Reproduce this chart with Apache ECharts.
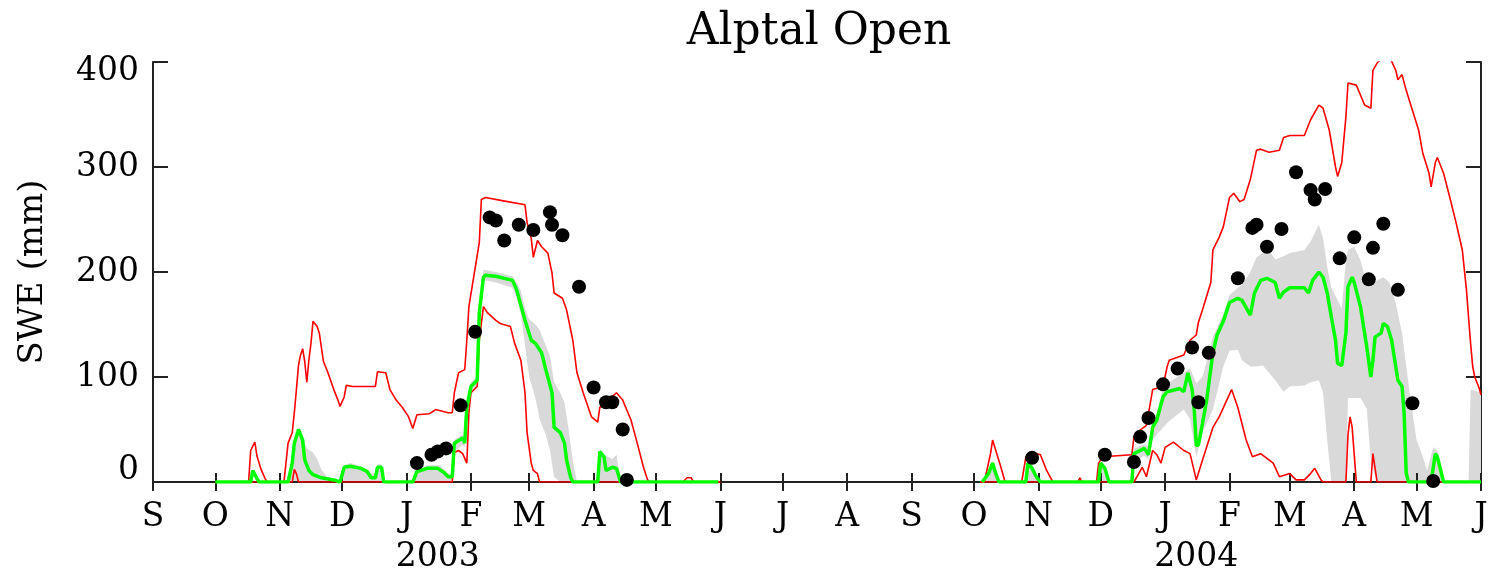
<!DOCTYPE html>
<html>
<head>
<meta charset="utf-8">
<script src="https://cdn.jsdelivr.net/npm/echarts@6/dist/echarts.min.js"></script>
<style>
html,body{margin:0;padding:0;background:#fff;}
#chart{width:1495px;height:572px;}
</style>
</head>
<body>
<div id="chart"></div>
<script>
// ---- DATA (x = days since 2002-09-01, y = SWE in mm) ----
const startYear = 2002, startMonth = 8, startDay = 1;
const endDay = 639; // 2004-06-01
const monthLetters = ['J','F','M','A','M','J','J','A','S','O','N','D'];
const yearLabels = ['2003', '2004'];
const yearLabelDays = [137, 502];

const redUpper2003 = [[30,0],[46,0],[47,30],[49,38],[50,25],[52,12],[54,3],[55,0],[63,0],[65,37],[67,47],[68,66],[69,88],[70,111],[71,121],[72,127],[73,115],[74,95],[75,116],[76,132],[77,153],[79,148],[80,142],[82,115],[84,105],[87,88],[89,78],[90,72],[92,81],[93,92],[96,91],[107,91],[108,105],[112,104],[114,88],[117,78],[120,71],[123,62],[125,51],[127,64],[133,65],[136,69],[142,66],[144,66],[145,85],[147,104],[150,107],[151,135],[152,167],[157,228],[158,269],[160,271],[168,268],[179,264],[180,247],[182,232],[183,214],[185,230],[187,224],[190,218],[192,199],[193,180],[197,175],[199,164],[202,135],[204,104],[207,85],[211,62],[214,57],[215,71],[219,78],[223,85],[226,78],[230,59],[233,37],[236,14],[238,2],[239,0],[255,0],[257,4],[259,4],[260,0],[273,0]];
const redUpper2004 = [[398,0],[400,0],[403,27],[404,40],[406,27],[408,14],[410,0],[418,0],[420,24],[425,27],[427,26],[430,11],[433,0],[445,0],[446,4],[447,0],[454,0],[455,18],[457,24],[471,26],[472,43],[474,48],[478,54],[481,88],[486,91],[488,110],[489,116],[496,121],[499,135],[502,140],[503,152],[505,164],[509,190],[510,221],[513,233],[515,243],[518,271],[520,275],[523,267],[525,269],[528,288],[531,316],[533,317],[537,314],[542,316],[544,328],[547,330],[554,330],[557,345],[561,359],[563,356],[566,335],[569,300],[570,291],[572,304],[574,348],[575,380],[579,378],[583,359],[586,356],[587,392],[589,399],[592,405],[595,405],[598,392],[599,383],[601,388],[603,373],[606,354],[609,335],[611,313],[614,294],[615,281],[617,304],[618,309],[621,294],[624,271],[627,247],[630,221],[632,183],[633,157],[634,132],[635,110],[636,100],[638,90],[639,83]];
const redLower2003 = [[30,0],[67,0],[68,12],[69,8],[70,0],[144,0],[145,28],[147,30],[149,27],[151,18],[152,66],[153,85],[156,91],[157,135],[159,167],[161,161],[165,154],[167,151],[172,148],[174,132],[177,116],[179,85],[180,47],[182,18],[183,11],[185,8],[186,0],[273,0]];
const redLower2004 = [[398,0],[472,0],[476,14],[478,5],[481,30],[483,26],[485,18],[487,33],[491,38],[496,30],[499,27],[502,2],[505,21],[510,52],[513,62],[519,88],[522,71],[526,40],[529,24],[533,27],[539,18],[542,5],[547,8],[550,2],[554,2],[557,8],[559,13],[562,2],[563,0],[574,0],[575,45],[576,62],[577,52],[579,0],[586,0],[587,27],[589,0],[639,0]];
const green2003 = [[30,0],[47,0],[48,11],[49,7],[51,0],[65,0],[67,18],[68,37],[70,50],[72,40],[73,21],[75,11],[77,7],[81,4],[87,2],[90,0],[92,14],[95,15],[100,13],[103,10],[105,4],[107,4],[108,14],[110,14],[111,0],[125,0],[127,10],[132,13],[137,13],[140,9],[142,5],[144,5],[145,37],[149,42],[150,37],[151,71],[153,91],[156,97],[157,161],[159,195],[160,197],[165,196],[173,192],[175,183],[179,154],[182,135],[184,132],[185,129],[187,123],[189,107],[192,85],[193,52],[196,47],[198,37],[199,21],[201,4],[202,0],[214,0],[215,29],[217,24],[218,11],[221,14],[223,13],[225,0],[272,0]];
const green2004 = [[399,0],[402,8],[404,18],[405,11],[407,0],[420,0],[421,18],[423,13],[425,5],[427,0],[455,0],[456,18],[458,13],[460,0],[471,0],[472,27],[477,32],[479,26],[481,52],[483,59],[486,81],[488,86],[494,89],[496,86],[498,104],[500,88],[501,69],[502,35],[503,35],[505,56],[507,78],[510,123],[512,140],[515,153],[518,171],[522,175],[524,173],[528,159],[530,180],[533,192],[536,194],[540,190],[542,175],[544,181],[547,185],[554,185],[556,180],[558,192],[561,200],[563,195],[565,180],[567,157],[569,135],[570,113],[572,111],[574,142],[575,186],[577,195],[578,190],[581,167],[584,129],[586,100],[587,116],[588,138],[591,142],[592,151],[594,148],[596,135],[599,97],[601,91],[602,66],[603,9],[604,0],[615,0],[617,27],[618,24],[621,0],[639,0]];
// ensemble band: [day, low, high]
const band2003 = [[30,0,0],[65,0,0],[67,0,20],[68,0,40],[70,0,50],[72,0,42],[74,0,32],[77,0,28],[79,0,22],[81,0,12],[84,0,4],[86,0,0],[91,0,0],[92,0,16],[95,0,18],[100,0,15],[103,0,12],[105,0,8],[107,0,8],[108,0,17],[110,0,17],[111,0,0],[125,0,0],[127,0,12],[132,0,16],[138,0,16],[142,0,8],[144,0,8],[145,30,40],[149,35,45],[150,33,42],[151,60,75],[153,85,95],[156,90,100],[157,150,170],[159,190,202],[160,192,202],[165,190,200],[173,185,196],[175,175,190],[177,160,182],[179,130,165],[181,100,155],[184,80,150],[186,60,145],[189,45,130],[191,30,120],[193,5,95],[196,0,85],[198,0,75],[200,0,50],[202,0,20],[204,0,0],[214,0,0],[215,0,32],[217,0,26],[221,0,22],[223,0,26],[225,0,0]];
const band2004 = [[400,0,0],[403,0,15],[404,0,20],[406,0,10],[408,0,0],[420,0,0],[421,0,20],[424,0,12],[427,0,0],[455,0,0],[456,0,20],[458,0,14],[460,0,0],[471,0,0],[472,20,32],[477,25,36],[479,22,34],[481,40,60],[483,45,65],[486,52,90],[489,58,95],[496,69,104],[499,60,108],[502,24,94],[505,47,100],[510,69,138],[515,110,160],[518,125,178],[522,126,185],[524,116,188],[528,110,200],[531,110,214],[534,111,218],[537,104,221],[540,97,212],[544,86,215],[547,91,218],[554,92,221],[557,95,229],[561,97,245],[563,85,232],[565,40,205],[567,0,185],[570,0,173],[572,0,165],[574,0,211],[575,80,221],[578,80,224],[581,80,211],[584,70,190],[586,20,190],[589,0,192],[592,0,195],[595,0,190],[598,0,170],[601,0,142],[602,0,126],[605,0,80],[608,0,40],[611,0,24],[613,0,11],[616,0,33],[618,0,30],[620,0,8],[622,0,0],[633,0,0],[634,0,88],[639,0,85]];
const obsDays = [127,134,137,141,148,155,162,165,169,176,183,191,192,197,205,212,218,221,226,228,423,458,472,475,479,486,493,500,503,508,522,529,531,536,543,550,557,559,564,571,578,585,587,592,599,606,616];
const obsSWE  = [18,26,29,32,73,143,252,249,230,245,240,257,245,235,186,90,76,76,50,2,23,26,19,43,61,93,108,128,76,123,194,242,245,224,241,295,278,269,279,213,233,193,223,246,183,75,1];

// ---- helpers ----
const T = d => new Date(startYear, startMonth, startDay + d).getTime();
const FONT = 'DejaVu Serif';
const AX = '#222';
const xMin = T(0), xMax = T(endDay);
const monthTicks = [];
for (let i = 0; i <= 21; i++) monthTicks.push(new Date(startYear, startMonth + i, 1).getTime());
const yearTicks = yearLabelDays.map(T);

const pts = arr => arr.map(p => [T(p[0]), p[1]]);
// band drawn as a gray area up to "high", then a white area up to "low" on top of it
const bandSeries = (band) => [
  { type: 'line', data: band.map(p => [T(p[0]), p[2]]), symbol: 'none', clip: true,
    lineStyle: { width: 0, color: '#d9d9d9' }, areaStyle: { color: '#d9d9d9', opacity: 1, origin: 'start' }, silent: true, z: 1 },
  { type: 'line', data: band.map(p => [T(p[0]), p[1]]), symbol: 'none', clip: true,
    lineStyle: { width: 0, color: '#ffffff' }, areaStyle: { color: '#ffffff', opacity: 1, origin: 'start' }, silent: true, z: 1 }
];
const lineS = (arr, color, width, z) => ({ type: 'line', data: pts(arr), symbol: 'none', clip: true,
  lineStyle: { color, width }, itemStyle: { color }, z, silent: true });

const xAxisBase = {
  type: 'value', min: xMin, max: xMax,
  splitLine: { show: false },
  axisLine: { show: true, lineStyle: { color: AX, width: 2 } },
  axisTick: { show: true, inside: true, length: 9, customValues: monthTicks, lineStyle: { color: AX, width: 2 } }
};
const labelFont = { fontFamily: FONT, fontSize: 33, color: '#000' };

const chart = echarts.init(document.getElementById('chart'), null, { renderer: 'canvas' });
chart.setOption({
  animation: false,
  backgroundColor: '#fff',
  title: {
    text: 'Alptal Open', left: 814, top: 6, textAlign: 'center',
    textStyle: { fontFamily: FONT, fontSize: 44, fontWeight: 'normal', color: '#000' }
  },
  grid: { left: 153, right: 14, top: 62, bottom: 90, containLabel: false, outerBoundsMode: 'none' },
  xAxis: [
    Object.assign({}, xAxisBase, {
      position: 'bottom', z: 3,
      axisLabel: Object.assign({ customValues: monthTicks, formatter: v => monthLetters[new Date(v).getMonth()],
        margin: 19, showMinLabel: true, showMaxLabel: true }, labelFont)
    }),
    Object.assign({}, xAxisBase, { position: 'top', axisLabel: { show: false } }),
    {
      type: 'value', min: xMin, max: xMax, position: 'bottom',
      splitLine: { show: false }, axisLine: { show: false }, axisTick: { show: false },
      axisLabel: Object.assign({ customValues: yearTicks, formatter: v => yearLabels[yearTicks.indexOf(v)] || '',
        margin: 59 }, labelFont)
    }
  ],
  yAxis: [
    {
      type: 'value', min: 0, max: 400, interval: 100, position: 'left',
      splitLine: { show: false },
      axisLine: { show: true, lineStyle: { color: AX, width: 2 } },
      axisTick: { show: true, inside: true, length: 15, lineStyle: { color: AX, width: 2 } },
      axisLabel: Object.assign({ margin: 14,
        formatter: v => v === 0 ? '{lo|0}' : (v === 400 ? '{hi|400}' : String(v)),
        rich: {
          lo: Object.assign({ padding: [0, 0, 24, 0] }, labelFont),
          hi: Object.assign({ padding: [19, 0, 0, 0] }, labelFont)
        } }, labelFont),
      name: 'SWE (mm)', nameLocation: 'middle', nameGap: 103, nameRotate: 90,
      nameTextStyle: { fontFamily: FONT, fontSize: 34, color: '#000' }
    },
    {
      type: 'value', min: 0, max: 400, interval: 100, position: 'right',
      splitLine: { show: false },
      axisLine: { show: true, lineStyle: { color: AX, width: 2 } },
      axisTick: { show: true, inside: true, length: 15, lineStyle: { color: AX, width: 2 } },
      axisLabel: { show: false }
    }
  ],
  series: [
    ...bandSeries(band2003),
    ...bandSeries(band2004),
    lineS(redUpper2003, '#ff0000', 1.6, 3),
    lineS(redUpper2004, '#ff0000', 1.6, 3),
    lineS(redLower2003, '#ff0000', 1.6, 3),
    lineS(redLower2004, '#ff0000', 1.6, 3),
    lineS(green2003, '#00ff00', 3.5, 4),
    lineS(green2004, '#00ff00', 3.5, 4),
    {
      type: 'scatter', data: obsDays.map((d, i) => [T(d), obsSWE[i]]),
      symbol: 'circle', symbolSize: 14, itemStyle: { color: '#000', opacity: 1 }, z: 5, silent: true
    }
  ]
});
</script>
</body>
</html>
